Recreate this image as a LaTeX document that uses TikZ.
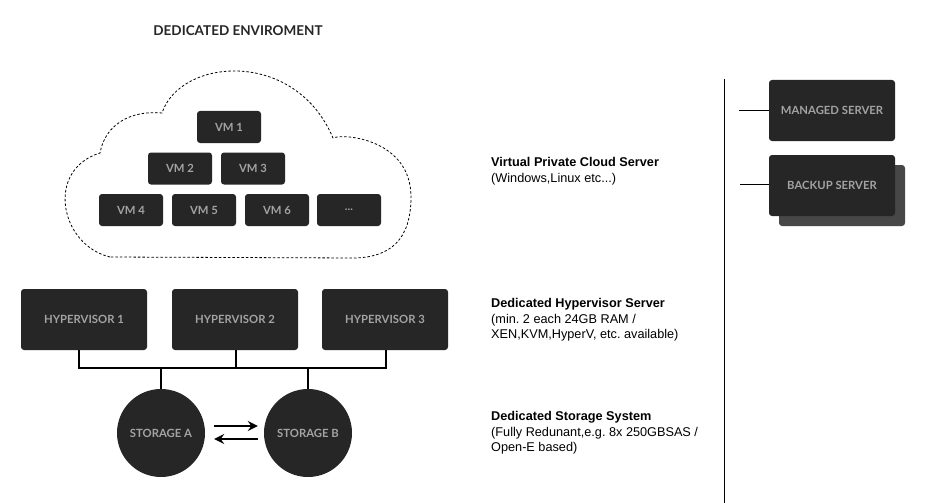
\documentclass[tikz,border=0pt]{standalone}
\usepackage{fontspec}
\setmainfont{Liberation Sans}
\newfontfamily\boxfont{Lato}
\usetikzlibrary{arrows.meta}
\definecolor{boxdark}{HTML}{262626}
\definecolor{boxtext}{HTML}{A3A3A3}
\definecolor{boxshadow}{HTML}{474747}
\frenchspacing

\begin{document}
\begin{tikzpicture}[
    x=1pt, y=-1pt,
    darkbox/.style={fill=boxdark, rounded corners=3pt, text=boxtext, inner sep=0pt,
        font=\boxfont\bfseries\fontsize{11.3}{13}\selectfont},
    vmbox/.style={darkbox, minimum width=64pt, minimum height=32pt},
    srvbox/.style={darkbox, minimum width=126pt, minimum height=61pt},
    store/.style={circle, fill=boxdark, text=boxtext, inner sep=0pt, minimum size=88pt,
        font=\boxfont\bfseries\fontsize{11.3}{13}\selectfont},
    wire/.style={line width=1.5pt},
    sync/.style={line width=1.8pt, -{Stealth[length=10pt, width=10pt, inset=3.5pt]}},
    desc/.style={anchor=north west, align=left, inner sep=0pt,
        font=\fontsize{12.7}{15.5}\selectfont}
]

% 1. Canvas
\fill[white] (0,0) rectangle (938,503);
\useasboundingbox (0,0) rectangle (938,503);

% 2. Title
\node[font=\boxfont\bfseries\fontsize{13.5}{15}\selectfont, text=black!85] (title) at (238,31) {DEDICATED ENVIROMENT};

% 3. Cloud outline
\draw[line width=0.8pt, dash pattern=on 2.5pt off 2pt]
    (110,257) .. controls (60,245) and (45,170) .. (100,153)
    .. controls (105,125) and (130,110) .. (162,113)
    .. controls (180,58) and (295,48) .. (333,138)
    .. controls (345,133) and (411,140) .. (411,197)
    .. controls (411,240) and (390,257) .. (355,258) -- cycle;

% 4. Virtual machines
\node[vmbox] (vm1) at (229,127) {VM 1};
\node[vmbox] (vm2) at (180,168.5) {VM 2};
\node[vmbox] (vm3) at (253,168.5) {VM 3};
\node[vmbox] (vm4) at (131,210) {VM 4};
\node[vmbox] (vm5) at (204,210) {VM 5};
\node[vmbox] (vm6) at (277,210) {VM 6};
\node[vmbox] (vmmore) at (349,210) {...};

% 5. Hypervisors
\node[srvbox] (hv1) at (84,319.5) {HYPERVISOR 1};
\node[srvbox] (hv2) at (235,319.5) {HYPERVISOR 2};
\node[srvbox] (hv3) at (385,319.5) {HYPERVISOR 3};

% 6. Storage
\node[store] (sta) at (161,433) {STORAGE A};
\node[store] (stb) at (308,433) {STORAGE B};

% 7. Bus between hypervisors and storage
\coordinate (bus) at (0,368);
\draw[wire] ([xshift=-5pt]hv1.south) |- ([xshift=1pt]hv3.south |- bus) -- ([xshift=1pt]hv3.south);
\draw[wire] ([xshift=1pt]hv2.south) -- ([xshift=1pt]hv2.south |- bus);
\draw[wire] (sta.north) -- (sta.north |- bus);
\draw[wire] (stb.north) -- (stb.north |- bus);

% replication
\draw[sync, shorten <=9pt, shorten >=6pt] ([yshift=7pt]sta.east) -- ([yshift=7pt]stb.west);
\draw[sync, shorten <=6pt, shorten >=9pt] ([yshift=-6pt]stb.west) -- ([yshift=-6pt]sta.east);

% 8. Descriptions
\node[desc] (vpcinfo) at (491,157.5) {\textbf{Virtual Private Cloud Server}\\(Windows,Linux etc...)};
\node[desc] (hvinfo) at (491,298.5) {\textbf{Dedicated Hypervisor Server}\\(min. 2 each 24GB RAM /\\XEN,KVM,HyperV, etc. available)};
\node[desc] (stinfo) at (491,411.5) {\textbf{Dedicated Storage System}\\(Fully Redunant,e.g. 8x 250GBSAS /\\Open-E based)};

% 9. Divider and extra services
\coordinate (divtop) at (724,79);
\coordinate (divbot) at (724,503);
\draw[line width=1pt] (divtop) -- (divbot);

\node[srvbox, fill=boxshadow] (backupshadow) at (842,195.5) {};
\node[srvbox] (managed) at (832,110.5) {MANAGED SERVER};
\node[srvbox] (backup) at (832,185.5) {BACKUP SERVER};

\coordinate (mtap) at (739,110.5);
\coordinate (btap) at (740,184.5);
\draw[wire] (mtap) -- (managed.west |- mtap);
\draw[wire] (btap) -- (backup.west |- btap);

\end{tikzpicture}
\end{document}
